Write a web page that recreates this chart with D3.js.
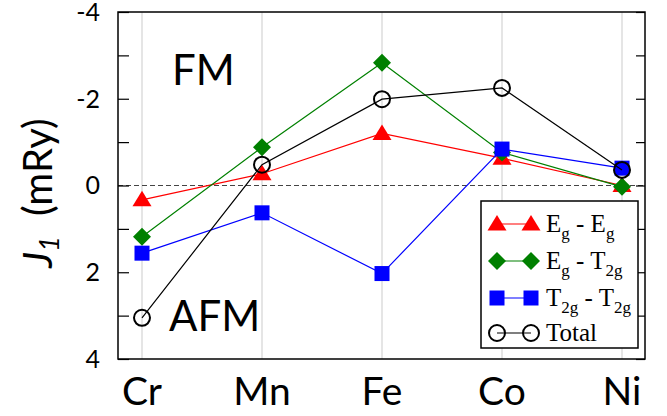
<!DOCTYPE html>
<html><head><meta charset="utf-8">
<script src="https://cdn.jsdelivr.net/npm/d3@7"></script>
<style>body{margin:0;background:#fff}svg{display:block}</style>
</head><body>
<script>
const categories = ["Cr","Mn","Fe","Co","Ni"];
const egEg   = [0.33, -0.27, -1.2, -0.63, 0.0];
const egT2g  = [1.18, -0.88, -2.83, -0.76, 0.03];
const t2gT2g = [1.56, 0.63, 2.03, -0.84, -0.4];
const total  = [3.05, -0.48, -1.99, -2.25, -0.36];
const yTicks = [-4,-2,0,2,4];
const yMinor = [-4,-3,-2,-1,0,1,2,3,4];

const W=667,H=416;
const L=118,R=645,T=12,B=359;
const FONT="Lato";
const svg=d3.select("body").append("svg").attr("width",W).attr("height",H);
const x=d3.scalePoint().domain(categories).range([142,622]);
const y=d3.scaleLinear().domain([-4,4]).range([T,B]);

svg.append("g").selectAll("line").data(categories).join("line")
  .attr("x1",d=>x(d)).attr("x2",d=>x(d)).attr("y1",T).attr("y2",B)
  .attr("stroke","#dcdcdc").attr("stroke-width",1.5);
svg.append("line").attr("x1",L).attr("x2",R).attr("y1",y(0)).attr("y2",y(0))
  .attr("stroke","#444").attr("stroke-width",1.2).attr("stroke-dasharray","5,3");

const yl=d3.axisLeft(y).tickValues(yMinor).tickSize(-11).tickFormat("");
svg.append("g").attr("transform",`translate(${L},0)`).call(yl).call(g=>g.select(".domain").remove())
  .selectAll("line").attr("stroke","#000").attr("stroke-width",1.2);
const yr=d3.axisRight(y).tickValues(yMinor).tickSize(-9).tickFormat("");
svg.append("g").attr("transform",`translate(${R},0)`).call(yr).call(g=>g.select(".domain").remove())
  .selectAll("line").attr("stroke","#000").attr("stroke-width",1.2);
svg.append("g").selectAll("text").data(yTicks).join("text")
  .attr("x",100).attr("y",d=>y(d)).attr("dy","0.35em").attr("text-anchor","end")
  .attr("font-family",FONT).attr("font-size",25).text(d=>d);
svg.append("g").selectAll("text").data(categories).join("text")
  .attr("x",d=>x(d)).attr("y",405).attr("text-anchor","middle")
  .attr("font-family",FONT).attr("font-size",39).text(d=>d);

svg.append("rect").attr("x",L).attr("y",T).attr("width",R-L).attr("height",B-T)
  .attr("fill","none").attr("stroke","#000").attr("stroke-width",1.5);

const yt=svg.append("text").attr("transform","translate(52,193) rotate(-90)")
  .attr("text-anchor","middle").attr("font-family",FONT).attr("font-size",40);
yt.append("tspan").attr("font-style","italic").text("J");
yt.append("tspan").attr("font-style","italic").attr("font-size",27).attr("dy",7).text("1");
yt.append("tspan").attr("dy",-7).text("\u2002(mRy)");

svg.append("text").attr("x",172).attr("y",85).attr("font-family",FONT).attr("font-size",42).text("FM");
svg.append("text").attr("x",169).attr("y",331).attr("font-family",FONT).attr("font-size",42).text("AFM");

function marker(g,type,color,cx,cy){
  if(type==="tri"){
    g.append("path").attr("d",`M${cx},${cy-9}L${cx+9.5},${cy+6.5}L${cx-9.5},${cy+6.5}Z`).attr("fill",color);
  } else if(type==="dia"){
    const s=9;
    g.append("path").attr("d",`M${cx},${cy-s}L${cx+s},${cy}L${cx},${cy+s}L${cx-s},${cy}Z`).attr("fill",color);
  } else if(type==="sq"){
    const s=15;
    g.append("rect").attr("x",cx-s/2).attr("y",cy-s/2).attr("width",s).attr("height",s).attr("fill",color);
  } else {
    g.append("circle").attr("cx",cx).attr("cy",cy).attr("r",8).attr("fill","none").attr("stroke",color).attr("stroke-width",2);
  }
}
const series=[
  {vals:egEg,color:"#ff0000",type:"tri"},
  {vals:egT2g,color:"#008000",type:"dia"},
  {vals:t2gT2g,color:"#0000ff",type:"sq"},
  {vals:total,color:"#000000",type:"circ"}
];
const line=d3.line().x((d,i)=>x(categories[i])).y(d=>y(d));
series.forEach(s=>{
  const g=svg.append("g");
  g.append("path").attr("d",line(s.vals)).attr("fill","none").attr("stroke",s.color).attr("stroke-width",1.2);
  s.vals.forEach((v,i)=>marker(g,s.type,s.color,x(categories[i]),y(v)));
});

const lg=svg.append("g");
lg.append("rect").attr("x",481).attr("y",201).attr("width",157).attr("height",147).attr("fill","#fff").attr("stroke","#000").attr("stroke-width",1.5);
const legRows=[
  {type:"tri",color:"#ff0000",y:224,parts:[["E",0],["g",1],[" - E",0],["g",1]]},
  {type:"dia",color:"#008000",y:261,parts:[["E",0],["g",1],[" - T",0],["2g",1]]},
  {type:"sq",color:"#0000ff",y:298,parts:[["T",0],["2g",1],[" - T",0],["2g",1]]},
  {type:"circ",color:"#000000",y:333,parts:[["Total",0]]}
];
legRows.forEach(r=>{
  lg.append("line").attr("x1",497).attr("x2",531).attr("y1",r.y).attr("y2",r.y).attr("stroke",r.color).attr("stroke-width",1.2);
  marker(lg,r.type,r.color,497,r.y);
  marker(lg,r.type,r.color,531,r.y);
  const t=lg.append("text").attr("x",546).attr("y",r.y+8).attr("font-family","Liberation Serif").attr("font-size",25);
  let sub=false;
  r.parts.forEach(([txt,isSub])=>{
    const ts=t.append("tspan").text(txt);
    if(isSub&&!sub){ts.attr("dy",7);sub=true;}
    else if(!isSub&&sub){ts.attr("dy",-7);sub=false;}
    if(isSub) ts.attr("font-size",17);
  });
});
</script>
</body></html>
